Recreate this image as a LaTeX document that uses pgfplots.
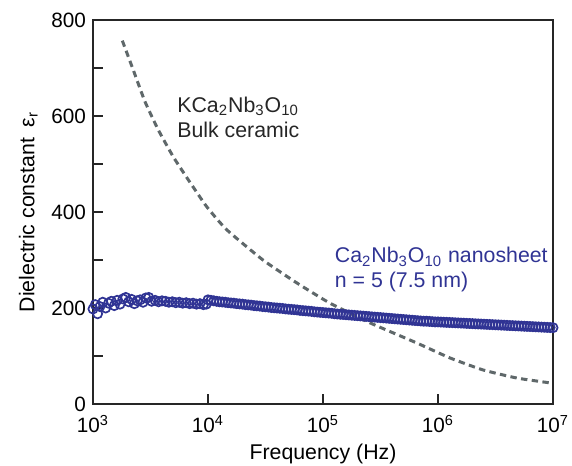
\documentclass[border=0pt]{standalone}
\usepackage{fontspec}
\setmainfont{Liberation Sans}
\usepackage{pgfplots}
\usepackage{pgfplotstable}
\pgfplotsset{compat=1.18}

\definecolor{sheetblue}{RGB}{48,52,148}
\definecolor{bulkgray}{RGB}{95,104,106}

% Bulk ceramic KCa2Nb3O10: log10(f/Hz), permittivity
\pgfplotstableread{
logf  eps
3.255 757
3.350 696
3.452 630
3.568 571
3.698 515
3.829 467
3.989 411
4.163 363
4.478 300
4.774 252
5.061 210
5.409 169
5.817 127
6.104 96
6.391 71
6.687 54
6.974 44
}\bulk

% Ca2Nb3O10 nanosheet film (n = 5): log10(f/Hz), permittivity
\pgfplotstableread{
logf  eps
3.000 198
3.020 207
3.040 188
3.060 203
3.085 212
3.110 200
3.135 210
3.160 214
3.185 205
3.210 216
3.235 208
3.260 219
3.285 222
3.310 213
3.335 218
3.360 209
3.385 215
3.410 217
3.435 212
3.460 221
3.485 222
3.510 214
3.540 216
3.570 213
3.600 215
3.630 214
3.660 212
3.690 213
3.720 211
3.750 212
3.780 210
3.810 211
3.840 209
3.870 210
3.900 208
3.930 209
3.960 207
3.985 208
4.000 217
4.025 216
4.050 215
4.075 214
4.100 213
4.125 212.5
4.150 212
4.175 211
4.200 210.5
4.225 210
4.250 209
4.275 208.5
4.300 208
4.325 207
4.350 206.5
4.375 206
4.400 205
4.425 204.5
4.450 204
4.475 203
4.500 202.5
4.525 202
4.550 201
4.575 200.5
4.600 200
4.625 199.5
4.650 199
4.675 198
4.700 197.5
4.725 197
4.750 196.5
4.775 196
4.800 195
4.825 194.5
4.850 194
4.875 193.5
4.900 193
4.925 192
4.950 191.5
4.975 191
5.000 190.5
5.025 190
5.050 189.5
5.075 189
5.100 188
5.125 187.5
5.150 187
5.175 186.5
5.200 186
5.225 185.5
5.250 185
5.275 184.5
5.300 184
5.325 183.5
5.350 183
5.375 182.5
5.400 182
5.425 181.5
5.450 181
5.475 180.5
5.500 180
5.525 179.5
5.550 179
5.575 178.5
5.600 178
5.625 177.5
5.650 177
5.675 176.5
5.700 176
5.725 175.5
5.750 175
5.775 174.5
5.800 174
5.825 173.5
5.850 173
5.875 172.5
5.900 172.5
5.925 172
5.950 171.5
5.975 171
6.000 171
6.025 170.7
6.050 170.4
6.075 170.1
6.100 169.8
6.125 169.5
6.150 169.2
6.175 168.9
6.200 168.6
6.225 168.3
6.250 168
6.275 167.7
6.300 167.4
6.325 167.1
6.350 166.8
6.375 166.5
6.400 166.2
6.425 165.9
6.450 165.6
6.475 165.3
6.500 165
6.525 164.7
6.550 164.4
6.575 164.1
6.600 163.8
6.625 163.5
6.650 163.2
6.675 162.9
6.700 162.6
6.725 162.3
6.750 162
6.775 161.7
6.800 161.4
6.825 161.1
6.850 160.8
6.875 160.5
6.900 160.2
6.925 159.9
6.950 159.6
6.975 159.3
7.000 159
}\sheet

\begin{document}
\begin{tikzpicture}
\begin{axis}[
  scale only axis,
  width=230bp, height=192bp,
  xmin=3, xmax=7, ymin=0, ymax=800,
  axis line style={line width=0.75bp, black!85},
  tick style={line width=0.65bp, black!85},
  tick pos=left,
  tick align=inside,
  major tick length=5bp,
  minor tick length=5bp,
  xtick={3,4,5,6,7},
  xticklabels={10\textsuperscript{3},10\textsuperscript{4},10\textsuperscript{5},10\textsuperscript{6},10\textsuperscript{7}},
  ytick={0,200,400,600,800},
  minor ytick={100,300,500,700},
  /pgf/number format/assume math mode=true,
  ticklabel style={font=\fontsize{10.4}{12}\selectfont},
  xticklabel style={yshift=-2.2bp},
  label style={font=\fontsize{10.7}{12.5}\selectfont},
  xlabel={Frequency (Hz)},
  xlabel style={yshift=1.5bp},
  ylabel={Dielectric constant\enspace ε\textsubscript{r}},
  clip=false,
]
\addplot[bulkgray, line width=1.5bp, dash pattern=on 3.2bp off 2.2bp, smooth, tension=0.3]
  table[x=logf, y=eps] {\bulk};
\addplot[only marks, mark=o, mark size=2.3bp,
  mark options={draw=sheetblue, fill=white, line width=0.85bp}]
  table[x=logf, y=eps] {\sheet};

\node[anchor=base west, font=\fontsize{10.7}{12.5}\selectfont, text=black!85, inner sep=0pt]
  at (axis cs:3.73,608) {KCa\textsubscript{2}Nb\textsubscript{3}O\textsubscript{10}};
\node[anchor=base west, font=\fontsize{10.7}{12.5}\selectfont, text=black!85, inner sep=0pt]
  at (axis cs:3.73,556) {Bulk ceramic};
\node[anchor=base west, font=\fontsize{10.7}{12.5}\selectfont, text=sheetblue, inner sep=0pt]
  at (axis cs:5.10,294) {Ca\textsubscript{2}Nb\textsubscript{3}O\textsubscript{10} nanosheet};
\node[anchor=base west, font=\fontsize{10.7}{12.5}\selectfont, text=sheetblue, inner sep=0pt]
  at (axis cs:5.10,242) {n = 5 (7.5 nm)};
\end{axis}
\pgfresetboundingbox
\path (-46.5bp,-31bp) rectangle (239.5bp,202bp);
\end{tikzpicture}
\end{document}
